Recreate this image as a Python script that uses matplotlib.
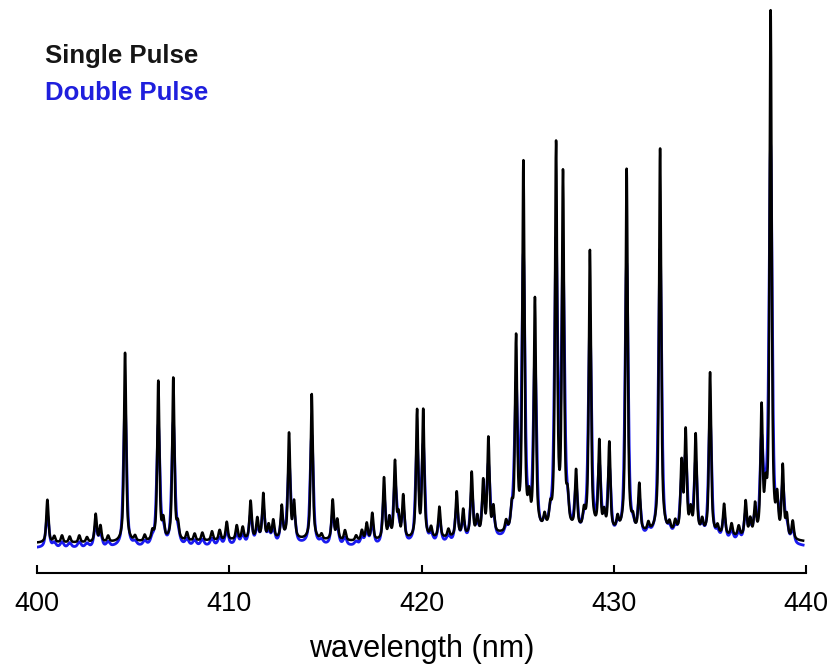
import matplotlib.pyplot as plt
import numpy as np

# emission lines: centre (nm), height above baseline (a.u.)
line_nm = [400.54, 400.9, 401.3, 401.7, 402.2, 402.6, 403.05, 403.3, 403.7,
           404.58, 405.1, 405.6, 406.0, 406.31, 406.57, 407.09, 407.33, 407.8,
           408.2, 408.6, 409.1, 409.5, 409.87, 410.39, 410.7, 411.11, 411.46,
           411.77, 412.05, 412.29, 412.73, 413.11, 413.37, 414.29, 414.8, 415.38,
           415.62, 416.02, 416.6, 416.9, 417.15, 417.44, 418.05, 418.33, 418.62,
           418.8, 419.05, 419.77, 420.09, 420.5, 420.93, 421.4, 421.83, 422.17,
           422.61, 422.9, 423.21, 423.48, 423.74, 424.4, 424.7, 424.92, 425.3,
           425.6, 425.9, 426.4, 426.7, 427.0, 427.36, 427.6, 428.04, 428.45,
           428.76, 429.25, 429.5, 429.77, 430.2, 430.67, 431.0, 431.33, 431.8,
           432.41, 432.9, 433.2, 433.53, 433.74, 434.0, 434.26, 434.6, 435.01,
           435.4, 435.74, 436.13, 436.5, 436.86, 437.1, 437.35, 437.69, 437.9,
           438.16, 438.5, 438.79, 439.0, 439.31]
line_single = [43, 6, 7, 6, 7, 5, 28, 16, 6,
               190, 5, 6, 8, 160, 18, 163, 14, 8,
               7, 8, 9, 10, 18, 14, 12, 38, 20,
               45, 13, 18, 32, 105, 35, 146, 5, 40,
               20, 10, 5, 10, 17, 27, 62, 20, 77,
               22, 43, 127, 127, 10, 31, 8, 45, 26,
               63, 17, 52, 95, 25, 10, 20, 190, 366,
               25, 230, 12, 16, 382, 352, 25, 58, 16,
               280, 88, 16, 88, 12, 364, 10, 47, 8,
               385, 8, 10, 68, 100, 20, 98, 12, 162,
               8, 31, 12, 10, 35, 16, 30, 126, 35,
               525, 34, 70, 21, 18]

# broad continuum under the lines
cont_nm = [412.0, 426.5, 434.0]
cont_h = [3, 9, 6]
cont_w = [3.0, 4.0, 3.0]

wl = np.linspace(400.0, 439.85, 5000)


def spectrum(heights, sigma, gamma, eta, scale, offset):
    y = np.zeros_like(wl) + offset
    for c, h in zip(line_nm, heights):
        d = wl - c
        y += scale * h * ((1 - eta) * np.exp(-d**2 / (2 * sigma**2))
                          + eta * gamma**2 / (d**2 + gamma**2))
    for c, h, w in zip(cont_nm, cont_h, cont_w):
        y += h * np.exp(-(wl - c)**2 / (2 * w**2))
    return y


single = spectrum(line_single, 0.05, 0.08, 0.5, 1.0, 0.0)
double = spectrum(line_single, 0.08, 0.11, 0.5, 0.75, -5.0)

fig = plt.figure(figsize=(8.29, 6.71), dpi=100)
ax = fig.add_axes([37/829, 98/671, 769/829, 573/671])
ax.plot(wl, double, color='#1a1aee', lw=2.0)
ax.plot(wl, single, color='black', lw=1.8)

ax.set_xlim(400, 440)
ax.set_ylim(-30, 543)
for s in ['top', 'left', 'right']:
    ax.spines[s].set_visible(False)
ax.spines['bottom'].set_linewidth(1.5)
ax.set_yticks([])
ax.set_xticks([400, 410, 420, 430, 440])
ax.tick_params(axis='x', direction='in', length=6, width=1.5, pad=13,
               labelsize=19.5)
for t in ax.get_xticklabels():
    t.set_fontfamily('Liberation Sans')
ax.set_xlabel('wavelength (nm)', fontsize=22, family='Liberation Sans',
              labelpad=12)

fig.text(45/829, 1 - 63/671, 'Single Pulse', fontsize=18.5, weight='bold',
         family='Liberation Sans', color='#151515', va='baseline')
fig.text(45/829, 1 - 100/671, 'Double Pulse', fontsize=18.5, weight='bold',
         family='Liberation Sans', color='#1f1fdd', va='baseline')

fig.savefig('out.png', dpi=100)
